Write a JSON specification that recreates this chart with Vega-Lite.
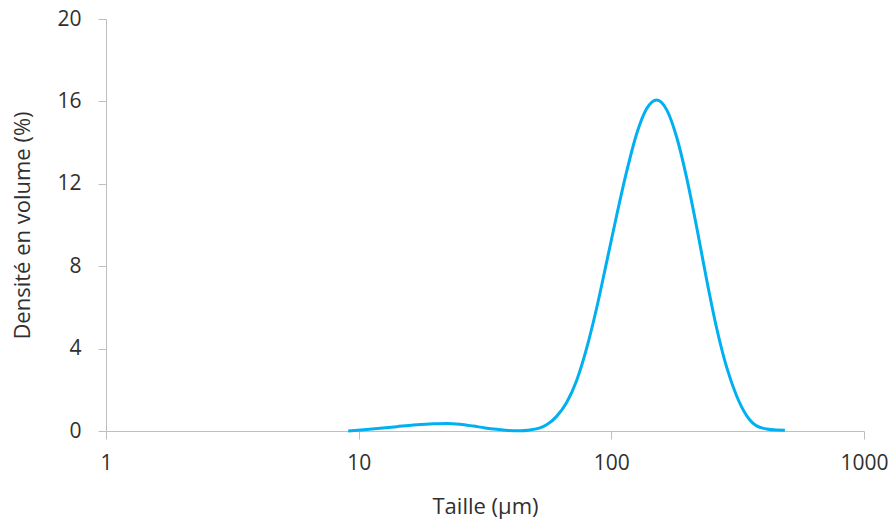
{
  "$schema": "https://vega.github.io/schema/vega-lite/v6.json",
  "autosize": {"type": "none"},
  "padding": {"left": 106, "top": 19, "right": 29, "bottom": 89},
  "width": 758,
  "height": 412,
  "background": "white",
  "config": {"view": {"stroke": null}, "font": "Open Sans"},
  "data": {"values": [
    {"size": 9.094, "density": 0.0},
    {"size": 10.49, "density": 0.06},
    {"size": 12.14, "density": 0.13},
    {"size": 14.14, "density": 0.21},
    {"size": 16.45, "density": 0.29},
    {"size": 19.15, "density": 0.34},
    {"size": 22.29, "density": 0.37},
    {"size": 25.17, "density": 0.33},
    {"size": 28.41, "density": 0.24},
    {"size": 31.61, "density": 0.15},
    {"size": 35.17, "density": 0.08},
    {"size": 38.98, "density": 0.03},
    {"size": 43.48, "density": 0.01},
    {"size": 47.63, "density": 0.05},
    {"size": 52.19, "density": 0.15},
    {"size": 55.46, "density": 0.3},
    {"size": 60.74, "density": 0.71},
    {"size": 66.55, "density": 1.38},
    {"size": 72.9, "density": 2.45},
    {"size": 79.87, "density": 4.02},
    {"size": 87.48, "density": 5.97},
    {"size": 95.8, "density": 8.2},
    {"size": 104.9, "density": 10.45},
    {"size": 115.0, "density": 12.6},
    {"size": 125.9, "density": 14.42},
    {"size": 137.9, "density": 15.64},
    {"size": 151.1, "density": 16.07},
    {"size": 165.5, "density": 15.6},
    {"size": 181.3, "density": 14.27},
    {"size": 198.6, "density": 12.3},
    {"size": 217.6, "density": 9.9},
    {"size": 238.3, "density": 7.35},
    {"size": 261.0, "density": 5.0},
    {"size": 286.0, "density": 3.1},
    {"size": 313.3, "density": 1.7},
    {"size": 343.1, "density": 0.75},
    {"size": 375.8, "density": 0.25},
    {"size": 411.8, "density": 0.1},
    {"size": 451.0, "density": 0.05},
    {"size": 486.4, "density": 0.04}
  ]},
  "mark": {"type": "line", "color": "#00B0F0", "strokeWidth": 3, "interpolate": "monotone"},
  "encoding": {
    "x": {
      "field": "size", "type": "quantitative",
      "scale": {"type": "log", "domain": [1, 1000], "nice": false},
      "axis": {
        "title": "Taille (µm)", "values": [1, 10, 100, 1000], "format": "d",
        "grid": false, "domainColor": "#BFBFBF", "tickColor": "#BFBFBF", "tickSize": 8,
        "labelFontSize": 21, "labelColor": "#303030", "labelPadding": 13,
        "labelFont": "Open Sans", "titleFont": "Open Sans",
        "titleFontSize": 22, "titleFontWeight": "normal", "titleColor": "#303030", "titlePadding": 23,
        "labelFlush": false
      }
    },
    "y": {
      "field": "density", "type": "quantitative",
      "scale": {"domain": [0, 20], "nice": false},
      "axis": {
        "title": "Densité en volume (%)", "values": [0, 4, 8, 12, 16, 20],
        "grid": false, "domainColor": "#BFBFBF", "tickColor": "#BFBFBF", "tickSize": 8,
        "labelFontSize": 21, "labelColor": "#303030", "labelPadding": 17,
        "labelFont": "Open Sans", "titleFont": "Open Sans",
        "titleFontSize": 22, "titleFontWeight": "normal", "titleColor": "#303030", "titlePadding": 22
      }
    }
  }
}
